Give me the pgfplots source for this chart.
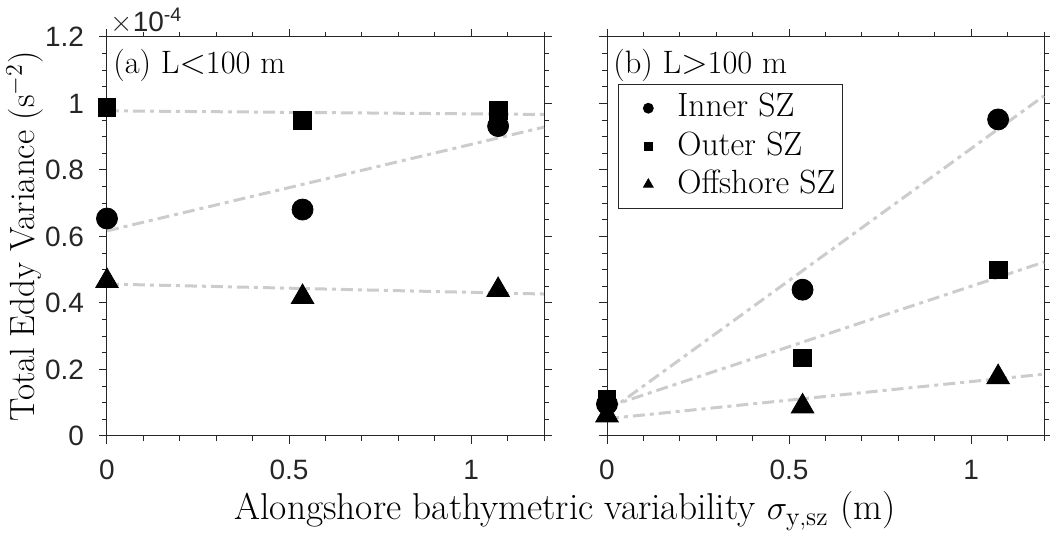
\documentclass[border=0pt]{standalone}
\usepackage{pgfplots}
\pgfplotsset{compat=1.18}
\usepackage{fontspec}
\newfontfamily\ticksf{Liberation Sans}

\definecolor{axisgray}{gray}{0.15}
\definecolor{fitgray}{gray}{0.8}

\pgfplotsset{
  panel/.style={
    scale only axis, width=218.5pt, height=199.5pt,
    xmin=0, xmax=1.2, ymin=0, ymax=1.2,
    xtick={0,0.5,1},
    minor xtick={0.1,0.2,0.3,0.4,0.6,0.7,0.8,0.9,1.1,1.2},
    ytick={0,0.2,0.4,0.6,0.8,1,1.2},
    minor ytick={0.05,0.1,0.15,0.25,0.3,0.35,0.45,0.5,0.55,0.65,0.7,0.75,0.85,0.9,0.95,1.05,1.1,1.15},
    tick align=outside, xtick pos=both, ytick pos=both,
    major tick length=4pt, minor tick length=2.5pt,
    axis line style={axisgray, line width=0.5pt},
    every tick/.style={axisgray, line width=0.5pt},
    /pgf/number format/assume math mode=true,
    ticklabel style={font=\ticksf\fontsize{14}{16}\selectfont, text=axisgray},
    xticklabel style={yshift=-4.5pt},
    yticklabel style={xshift=-4pt},
    clip=false,
  },
  fitline/.style={fitgray, line width=1.5pt, dash pattern=on 6pt off 2.5pt on 2pt off 2.5pt},
  circm/.style={only marks, mark=*, mark size=5.25pt, black},
  sqm/.style={only marks, mark=square*, mark size=4.4pt, black},
  trim/.style={only marks, mark=triangle*, mark size=6.5pt, black},
  legmark/.style={legend image code/.code={%
      \path[draw=none] (0pt,0pt) -- (26pt,0pt);
      \draw[##1] plot coordinates {(11.5pt,0pt)};}},
}

\begin{document}
\begin{tikzpicture}
% (a) L<100 m
\begin{axis}[panel, name=left, at={(0pt,0pt)}, anchor=south west,
  ylabel={Total Eddy Variance (s$^{-2}$)},
  ylabel style={font=\fontsize{17.5}{20}\selectfont, at={(axis description cs:-0.188,0.5)}, anchor=center},
]
\addplot[fitline] coordinates {(0,0.978) (1.2,0.967)};
\addplot[fitline] coordinates {(0,0.617) (1.2,0.929)};
\addplot[fitline] coordinates {(0,0.457) (1.2,0.427)};
\addplot[sqm] coordinates {(0,0.989) (0.537,0.949) (1.074,0.979)};
\addplot[circm] coordinates {(0,0.654) (0.537,0.681) (1.074,0.932)};
\addplot[trim] coordinates {(0,0.466) (0.537,0.418) (1.074,0.439)};
\node[anchor=north west, inner sep=0pt, font=\fontsize{16.2}{19}\selectfont]
  at (rel axis cs:0,1) [xshift=3pt, yshift=-6pt] {(a) L$<$100 m};
\node[anchor=base west, inner sep=0pt, font=\ticksf\fontsize{14}{16}\selectfont, text=axisgray]
  at (rel axis cs:0,1) [xshift=1.5pt, yshift=2.5pt] {$\times$10\textsuperscript{-4}};
\end{axis}

% (b) L>100 m
\begin{axis}[panel, name=right, at={(250pt,0pt)}, anchor=south west,
  yticklabels={},
  legend style={at={(0.025,0.882)}, anchor=north west, draw=axisgray,
    font=\fontsize{16.8}{19}\selectfont,
    inner xsep=3.5pt, inner ysep=4.5pt, row sep=4.3pt, column sep=0pt,
    cells={anchor=west}, nodes={inner sep=0pt, text depth=3pt}},
]
\addlegendimage{only marks, mark=*, mark size=2.5pt, black, legmark}
\addlegendentry{Inner SZ}
\addlegendimage{only marks, mark=square*, mark size=1.8pt, black, legmark}
\addlegendentry{Outer SZ}
\addlegendimage{only marks, mark=triangle*, mark size=2.8pt, black, legmark}
\addlegendentry{Offshore SZ}
\addplot[fitline, forget plot] coordinates {(0,0.071) (1.2,1.023)};
\addplot[fitline, forget plot] coordinates {(0,0.087) (1.2,0.523)};
\addplot[fitline, forget plot] coordinates {(0,0.052) (1.2,0.186)};
\addplot[sqm, forget plot] coordinates {(0,0.111) (0.537,0.235) (1.074,0.5)};
\addplot[circm, forget plot] coordinates {(0,0.096) (0.537,0.44) (1.074,0.952)};
\addplot[trim, forget plot] coordinates {(0,0.062) (0.537,0.089) (1.074,0.177)};
\node[anchor=north west, inner sep=0pt, font=\fontsize{16.2}{19}\selectfont]
  at (rel axis cs:0,1) [xshift=3pt, yshift=-6pt] {(b) L$>$100 m};
\end{axis}

\node[anchor=base, font=\fontsize{18.7}{21}\selectfont] at (229pt,-42pt)
  {Alongshore bathymetric variability $\sigma_{\mathrm{y,sz}}$ (m)};

\pgfresetboundingbox
\path (-53.5pt,-48.5pt) rectangle (471.5pt,218pt);
\end{tikzpicture}
\end{document}
